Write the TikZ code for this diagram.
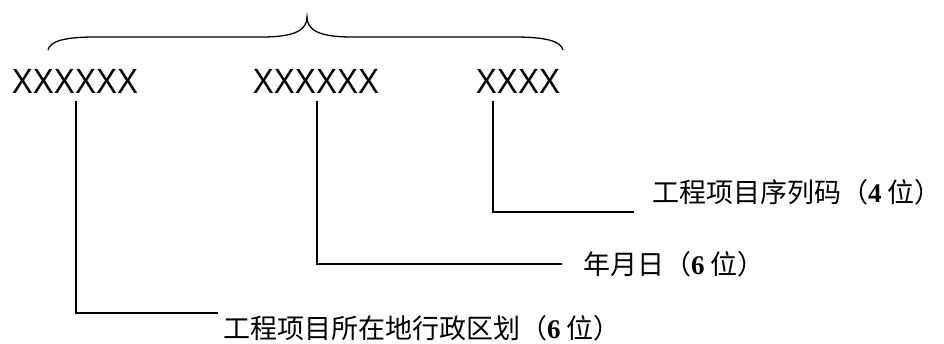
\documentclass[tikz,border=0pt]{standalone}
\usepackage{fontspec}
\setmainfont{Liberation Serif}
\setsansfont{Liberation Sans}
\newfontfamily\cjkfont{Noto Sans CJK SC}
\newcommand{\digito}[1]{{\rmfamily\bfseries #1}}

\begin{document}
\begin{tikzpicture}[
		x=1pt, y=-1pt,
		codigo/.style={font=\sffamily\fontsize{35}{35}\selectfont, inner sep=0pt, anchor=base, xscale=0.9, transform shape},
		rotulo/.style={font=\cjkfont\fontsize{27}{27}\selectfont, inner sep=0pt, anchor=west},
		linea/.style={draw, line width=1.7pt},
		llave/.style={draw, line width=1.3pt}
	]
	\useasboundingbox (0,0) rectangle (944,343);
	% Grupos del código
	\node[codigo] (lugar) at (75,93) {XXXXXX};
	\node[codigo] (fecha) at (316,93) {XXXXXX};
	\node[codigo] (serie) at (518,93) {XXXX};
	% Llave superior
	\draw[llave] (48,50) .. controls (50,41) and (65,37) .. (95,37) -- (262,37)
		.. controls (295,37) and (307,30) .. (307,17)
		.. controls (307,30) and (319,37) .. (352,37) -- (515,37)
		.. controls (545,37) and (561,41) .. (563,50);
	% Rótulos
	\node[rotulo] (rserie) at (652,192) {工程项目序列码（\digito{4} 位）};
	\node[rotulo] (rfecha) at (583,264) {年月日（\digito{6} 位）};
	\node[rotulo] (rlugar) at (223,328) {工程项目所在地行政区划（\digito{6} 位）};
	% Puntos de las líneas
	\coordinate (a1) at (493,101);
	\coordinate (b1) at (634,212);
	\coordinate (a2) at (317,101);
	\coordinate (b2) at (562,264);
	\coordinate (a3) at (76,101);
	\coordinate (b3) at (218,313);
	% Líneas
	\draw[linea] (a1) |- (b1);
	\draw[linea] (a2) |- (b2);
	\draw[linea] (a3) |- (b3);
\end{tikzpicture}
\end{document}
